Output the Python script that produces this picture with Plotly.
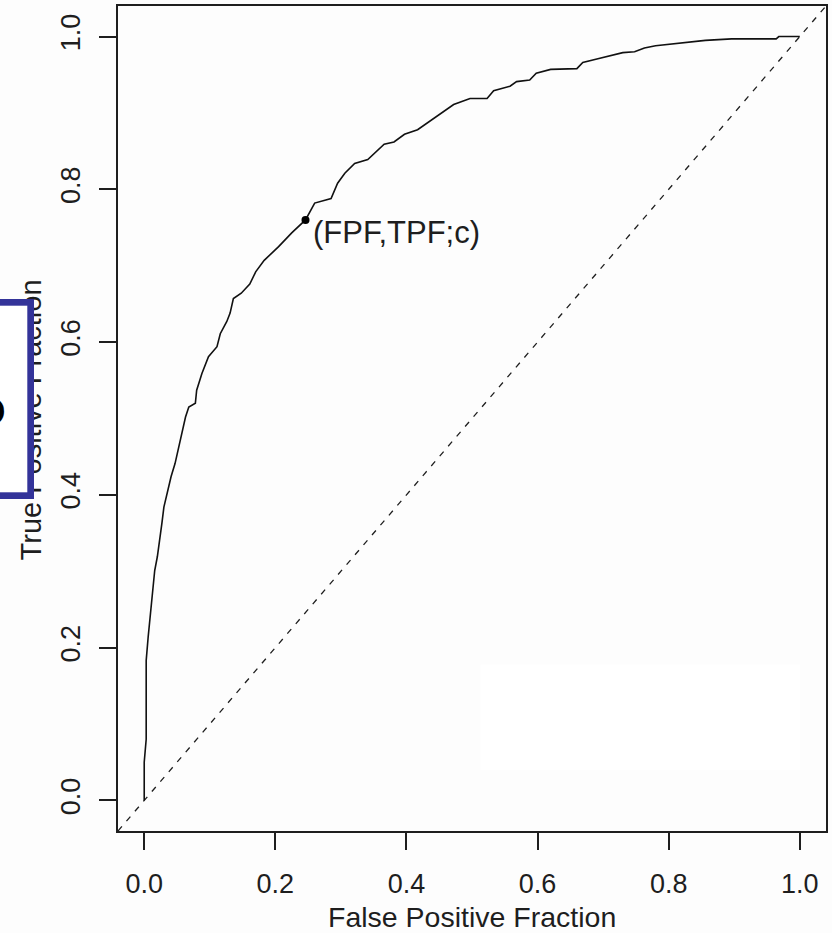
import plotly.graph_objects as go

# Empirical ROC curve (false positive fraction vs true positive fraction)
fpf = [0.000, 0.000, 0.003, 0.003, 0.006, 0.010, 0.012, 0.016, 0.020, 0.024,
       0.027, 0.030, 0.035, 0.041, 0.047, 0.053, 0.058, 0.063, 0.068, 0.078,
       0.080, 0.088, 0.098, 0.111, 0.116, 0.126, 0.131, 0.136, 0.148, 0.154,
       0.161, 0.170, 0.183, 0.205, 0.225, 0.246, 0.260, 0.285, 0.295, 0.306,
       0.321, 0.341, 0.351, 0.366, 0.381, 0.397, 0.417, 0.432, 0.452, 0.472,
       0.497, 0.523, 0.533, 0.558, 0.568, 0.588, 0.598, 0.620, 0.660, 0.669,
       0.692, 0.715, 0.730, 0.748, 0.763, 0.780, 0.816, 0.836, 0.856, 0.896,
       0.964, 0.968, 1.000]
tpf = [0.000, 0.050, 0.080, 0.183, 0.214, 0.249, 0.275, 0.301, 0.319, 0.341,
       0.363, 0.384, 0.402, 0.424, 0.441, 0.463, 0.485, 0.502, 0.515, 0.520,
       0.537, 0.559, 0.581, 0.594, 0.611, 0.627, 0.638, 0.657, 0.664, 0.670,
       0.676, 0.692, 0.707, 0.725, 0.743, 0.760, 0.782, 0.788, 0.808, 0.821,
       0.834, 0.839, 0.847, 0.859, 0.862, 0.872, 0.878, 0.887, 0.898, 0.911,
       0.919, 0.919, 0.929, 0.935, 0.941, 0.943, 0.952, 0.957, 0.958, 0.966,
       0.971, 0.976, 0.979, 0.980, 0.985, 0.988, 0.991, 0.993, 0.995, 0.997,
       0.997, 1.000, 1.000]

# Chance line (y = x) across the whole plotting region
chance = [-0.04, 1.04]

# Operating point at threshold c
op_fpf = [0.246]
op_tpf = [0.760]
op_label = "(FPF,TPF;c)"

tick_vals = [0.0, 0.2, 0.4, 0.6, 0.8, 1.0]
tick_text = ["0.0", "0.2", "0.4", "0.6", "0.8", "1.0"]
x_title = "False Positive Fraction"
y_title = "True Positive Fraction"

FONT = "Liberation Sans, Arial, sans-serif"
INK = "#1e1e1e"
BG = "#fdfdfd"

fig = go.Figure()

fig.add_trace(go.Scatter(
    x=chance, y=chance, mode="lines",
    line=dict(color=INK, width=1.3, dash="6px,7px"),
    hoverinfo="skip", showlegend=False,
))
fig.add_trace(go.Scatter(
    x=fpf, y=tpf, mode="lines",
    line=dict(color="#111111", width=1.6),
    showlegend=False,
))
fig.add_trace(go.Scatter(
    x=op_fpf, y=op_tpf, mode="markers",
    marker=dict(color="#000000", size=8),
    showlegend=False,
))

axis_common = dict(
    range=[-0.04, 1.04],
    tickvals=tick_vals,
    ticktext=tick_text,
    ticks="outside",
    ticklen=17,
    tickwidth=1.5,
    tickcolor=INK,
    showline=True,
    mirror=True,
    linecolor=INK,
    linewidth=1.6,
    showgrid=False,
    zeroline=False,
    tickfont=dict(family=FONT, size=27, color=INK),
)

fig.update_layout(
    width=832, height=933,
    margin=dict(l=118, r=4, t=6, b=102, pad=0),
    paper_bgcolor=BG,
    plot_bgcolor=BG,
    xaxis=dict(**axis_common, ticklabelstandoff=11),
    yaxis=dict(**axis_common, tickangle=-90, ticklabelstandoff=8),
    shapes=[
        dict(type="rect", xref="x", yref="y", x0=0.513, x1=1.0, y0=0.040, y1=0.178,
             fillcolor="#ffffff", line=dict(width=0), layer="below"),
    ],
    annotations=[
        # label next to the operating point
        dict(x=op_fpf[0] + 0.009, y=op_tpf[0] - 0.016, xref="x", yref="y",
             text=op_label, showarrow=False, xanchor="left", yanchor="middle",
             font=dict(family=FONT, size=31, color=INK)),
        # axis titles
        dict(x=0.5, y=-0.104, xref="paper", yref="paper", text=x_title,
             showarrow=False, xanchor="center", yanchor="middle",
             font=dict(family=FONT, size=28.5, color=INK)),
        dict(x=-0.1225, y=0.498, xref="paper", yref="paper", text=y_title,
             textangle=-90, showarrow=False, xanchor="center", yanchor="middle",
             font=dict(family=FONT, size=29, color=INK)),
        # framed callout box overlapping the left margin
        dict(x=-0.1193, y=0.5232, xref="paper", yref="paper", text=" ",
             showarrow=False, xanchor="right", yanchor="middle",
             width=107, height=187, bgcolor="#ffffff",
             bordercolor="#333399", borderwidth=6.7, borderpad=0),
        dict(x=-0.156, y=0.5076, xref="paper", yref="paper", text="<b>O</b>",
             showarrow=False, xanchor="right", yanchor="middle",
             font=dict(family=FONT, size=38, color="#000000")),
    ],
)

fig.write_html("out.html")
